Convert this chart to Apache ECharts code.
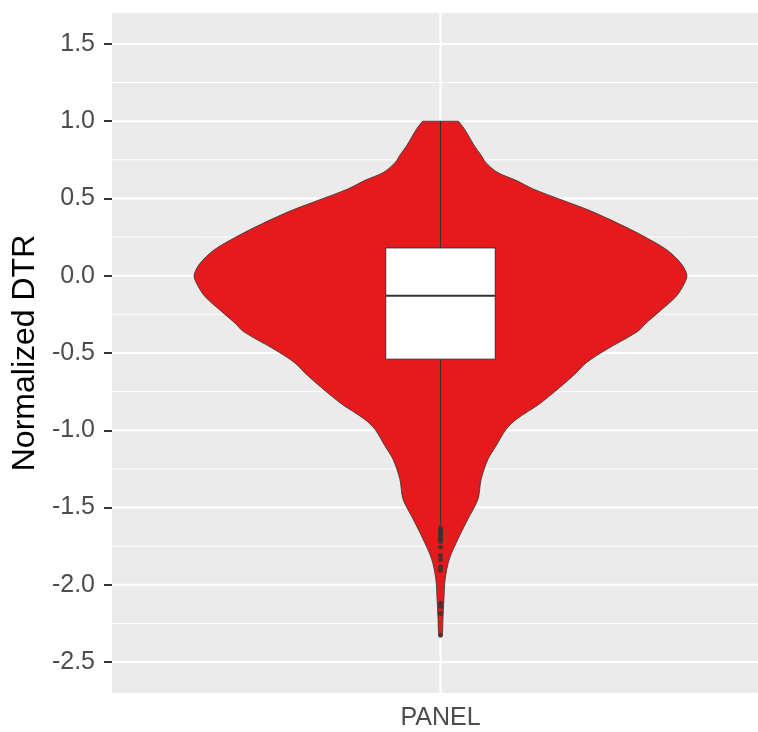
<!DOCTYPE html>
<html>
<head>
<meta charset="utf-8">
<title>Normalized DTR</title>
<script src="https://cdn.jsdelivr.net/npm/echarts@6.0.0/dist/echarts.min.js"></script>
<style>
  html, body { margin: 0; padding: 0; background: #ffffff; }
  #chart { width: 758px; height: 732px; }
</style>
</head>
<body>
<div id="chart"></div>
<script>
// Group on the x axis
const categories = ['PANEL'];

// Y axis ticks (major) and minor grid positions
const majorTicks = [-2.5, -2.0, -1.5, -1.0, -0.5, 0.0, 0.5, 1.0, 1.5];
const minorTicks = [-2.25, -1.75, -1.25, -0.75, -0.25, 0.25, 0.75, 1.25];

// Violin outline: y value and relative density (1 = widest point)
const violinY = [1.00, 0.95, 0.84, 0.78, 0.735, 0.67, 0.617, 0.563, 0.488, 0.423, 0.338, 0.251,
  0.166, 0.080, 0.005, -0.05, -0.135, -0.242, -0.307, -0.361, -0.479, -0.564, -0.651, -0.822,
  -0.930, -0.994, -1.10, -1.19, -1.317, -1.446, -1.575, -1.704, -1.833, -1.962, -2.091, -2.220, -2.33];
const violinDensity = [0.073, 0.097, 0.138, 0.165, 0.183, 0.230, 0.307, 0.374, 0.496, 0.604, 0.722, 0.830,
  0.920, 0.976, 1.000, 0.990, 0.956, 0.881, 0.834, 0.800, 0.672, 0.591, 0.536, 0.408,
  0.307, 0.266, 0.226, 0.192, 0.165, 0.152, 0.111, 0.071, 0.036, 0.019, 0.014, 0.010, 0.006];

// Box plot statistics: lower whisker, Q1, median, Q3, upper whisker
const boxStats = [-1.61, -0.54, -0.13, 0.18, 1.00];

// Points beyond the whiskers
const outliers = [-1.63, -1.645, -1.66, -1.675, -1.69, -1.705, -1.72, -1.757, -1.81, -1.838,
  -1.885, -1.905, -2.12, -2.14, -2.186, -2.326];

const violinHalfWidth = 0.45;
const boxHalfWidth = 0.1;
const xMin = 0.4, xMax = 1.6;
const yMin = -2.7, yMax = 1.7;

const chart = echarts.init(document.getElementById('chart'), null, { renderer: 'canvas' });

const gridLineData = majorTicks.map(v => [1, v, 2]).concat(minorTicks.map(v => [1, v, 1]));

const option = {
  animation: false,
  grid: {
    left: 112, top: 13, width: 657, height: 680,
    outerBoundsMode: 'none', containLabel: false,
    show: true, backgroundColor: '#EBEBEB', borderWidth: 0
  },
  xAxis: {
    type: 'value', min: xMin, max: xMax,
    axisLine: { show: false },
    splitLine: { show: false },
    axisTick: { show: true, customValues: [1], length: 8, lineStyle: { color: '#333333', width: 2 } },
    axisLabel: {
      customValues: [1], formatter: () => categories[0],
      color: '#4D4D4D', fontSize: 25, fontFamily: 'Liberation Sans', margin: 13
    }
  },
  yAxis: {
    type: 'value', min: yMin, max: yMax,
    name: 'Normalized DTR', nameLocation: 'middle', nameGap: 66,
    nameTextStyle: { color: '#000000', fontSize: 32, fontFamily: 'Liberation Sans' },
    axisLine: { show: false },
    splitLine: { show: false },
    axisTick: { show: true, customValues: majorTicks, length: 8, lineStyle: { color: '#333333', width: 2 } },
    axisLabel: {
      customValues: majorTicks, formatter: v => Number(v).toFixed(1),
      color: '#4D4D4D', fontSize: 25, fontFamily: 'Liberation Sans', margin: 17
    }
  },
  series: [
    {
      // panel grid lines
      type: 'custom', z: 1, silent: true,
      data: gridLineData,
      renderItem: (params, api) => {
        const y = api.value(1);
        const w = api.value(2);
        const a = api.coord([xMin, y]);
        const b = api.coord([xMax, y]);
        const children = [{
          type: 'line', shape: { x1: a[0], y1: a[1], x2: b[0], y2: b[1] },
          style: { stroke: '#FFFFFF', lineWidth: w }
        }];
        if (params.dataIndex === 0) {
          const t = api.coord([1, yMax]);
          const u = api.coord([1, yMin]);
          children.push({
            type: 'line', shape: { x1: t[0], y1: t[1], x2: u[0], y2: u[1] },
            style: { stroke: '#FFFFFF', lineWidth: 2 }
          });
        }
        return { type: 'group', children };
      }
    },
    {
      // violin: smoothed outline, with the flat top kept square by doubling its corner points
      type: 'custom', z: 2, silent: true,
      data: [[1, 0]],
      renderItem: (params, api) => {
        const cx = api.value(0);
        const left = [], right = [];
        for (let i = 0; i < violinY.length; i++) {
          const d = violinDensity[i] * violinHalfWidth;
          const pl = api.coord([cx - d, violinY[i]]);
          const pr = api.coord([cx + d, violinY[i]]);
          left.push(pl);
          right.push(pr);
          if (i === 0) {
            left.push(pl.slice());
            right.push(pr.slice());
          }
        }
        return {
          type: 'polygon',
          shape: { points: left.concat(right.reverse()), smooth: 0.3 },
          style: { fill: '#E41A1C', stroke: '#333333', lineWidth: 0.8 }
        };
      }
    },
    {
      // box and whiskers
      type: 'custom', z: 3, silent: true,
      data: [[1].concat(boxStats)],
      renderItem: (params, api) => {
        const cx = api.value(0);
        const lo = api.value(1), q1 = api.value(2), med = api.value(3), q3 = api.value(4), hi = api.value(5);
        const pHi = api.coord([cx, hi]), pQ3 = api.coord([cx, q3]);
        const pLo = api.coord([cx, lo]), pQ1 = api.coord([cx, q1]);
        const tl = api.coord([cx - boxHalfWidth, q3]);
        const br = api.coord([cx + boxHalfWidth, q1]);
        const ml = api.coord([cx - boxHalfWidth, med]);
        const mr = api.coord([cx + boxHalfWidth, med]);
        return {
          type: 'group',
          children: [
            { type: 'line', shape: { x1: pHi[0], y1: pHi[1], x2: pQ3[0], y2: pQ3[1] }, style: { stroke: '#333333', lineWidth: 1 } },
            { type: 'line', shape: { x1: pQ1[0], y1: pQ1[1], x2: pLo[0], y2: pLo[1] }, style: { stroke: '#333333', lineWidth: 1 } },
            { type: 'rect', shape: { x: tl[0], y: tl[1], width: br[0] - tl[0], height: br[1] - tl[1] },
              style: { fill: '#FFFFFF', stroke: '#333333', lineWidth: 1 } },
            { type: 'line', shape: { x1: ml[0], y1: ml[1], x2: mr[0], y2: mr[1] }, style: { stroke: '#333333', lineWidth: 2 } }
          ]
        };
      }
    },
    {
      // outliers
      type: 'scatter', z: 4, silent: true,
      symbol: 'circle', symbolSize: 5,
      itemStyle: { color: '#333333' },
      data: outliers.map(v => [1, v])
    }
  ]
};

chart.setOption(option);
</script>
</body>
</html>
